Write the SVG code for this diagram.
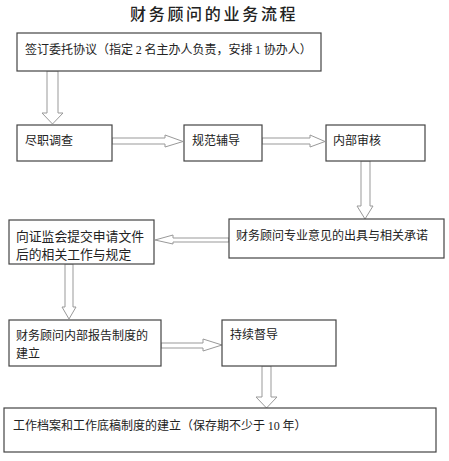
<svg xmlns="http://www.w3.org/2000/svg" width="449" height="461" viewBox="0 0 449 461">
<style>
.box{fill:#fff;stroke:#444;stroke-width:1.2}
.arr{fill:#fff;stroke:#999;stroke-width:1}
.t{font-family:"Noto Sans CJK SC","Noto Sans",sans-serif;font-size:12px;fill:#222}
.d{font-family:"Liberation Serif",serif}
.title{font-family:"Noto Sans CJK SC",sans-serif;font-size:16px;fill:#222;letter-spacing:2.7px;font-weight:500}
</style>
<rect width="449" height="461" fill="#fff"/>
<text class="title" x="130" y="20">财务顾问的业务流程</text>
<g id="connectors">
<polygon class="arr" points="47,71 58,71 58,113 63,113 52.5,124 42,113 47,113"/>
<polygon class="arr" points="112,138 165,138 165,135 183,141.5 165,147 165,144 112,144"/>
<polygon class="arr" points="262,138 310,138 310,135 325,141.5 310,147 310,144 262,144"/>
<polygon class="arr" points="361,161 370,161 370,206 373,206 365,219 357,206 361,206"/>
<polygon class="arr" points="229,238 173,238 173,235 155,240 173,244 173,242 229,242"/>
<polygon class="arr" points="65,264 73,264 73,307 76,307 69,319 62,307 65,307"/>
<polygon class="arr" points="161,343 203,343 203,339 222,345 203,351 203,348 161,348"/>
<polygon class="arr" points="262,366 271,366 271,397 277,397 266.5,408 256,397 262,397"/>
</g>
<g id="n1"><rect class="box" x="17" y="33" width="304" height="38"/>
<text class="t" x="25" y="54">签订委托协议（指定 <tspan class="d">2</tspan> 名主办人负责，安排 <tspan class="d">1</tspan> 协办人）</text></g>
<g id="n2"><rect class="box" x="17" y="125" width="95" height="36"/><text class="t" x="25" y="145">尽职调查</text></g>
<g id="n3"><rect class="box" x="184" y="125" width="78" height="36"/><text class="t" x="192" y="145">规范辅导</text></g>
<g id="n4"><rect class="box" x="326" y="125" width="99" height="36"/><text class="t" x="333" y="145">内部审核</text></g>
<g id="n5"><rect class="box" x="229" y="219" width="215" height="39"/><text class="t" x="236" y="240">财务顾问专业意见的出具与相关承诺</text></g>
<g id="n6"><rect class="box" x="9" y="220" width="145" height="44"/>
<text class="t" x="16" y="240.5" style="font-size:12.8px">向证监会提交申请文件</text>
<text class="t" x="16" y="258.5" style="font-size:12.8px">后的相关工作与规定</text></g>
<g id="n7"><rect class="box" x="9" y="320" width="152" height="46"/>
<text class="t" x="16" y="340">财务顾问内部报告制度的</text>
<text class="t" x="16" y="358">建立</text></g>
<g id="n8"><rect class="box" x="222" y="320" width="114" height="46"/><text class="t" x="230" y="339">持续督导</text></g>
<g id="n9"><rect class="box" x="4" y="408" width="432" height="44"/>
<text class="t" x="13" y="430">工作档案和工作底稿制度的建立（保存期不少于 <tspan class="d">10</tspan> 年）</text></g>
</svg>
